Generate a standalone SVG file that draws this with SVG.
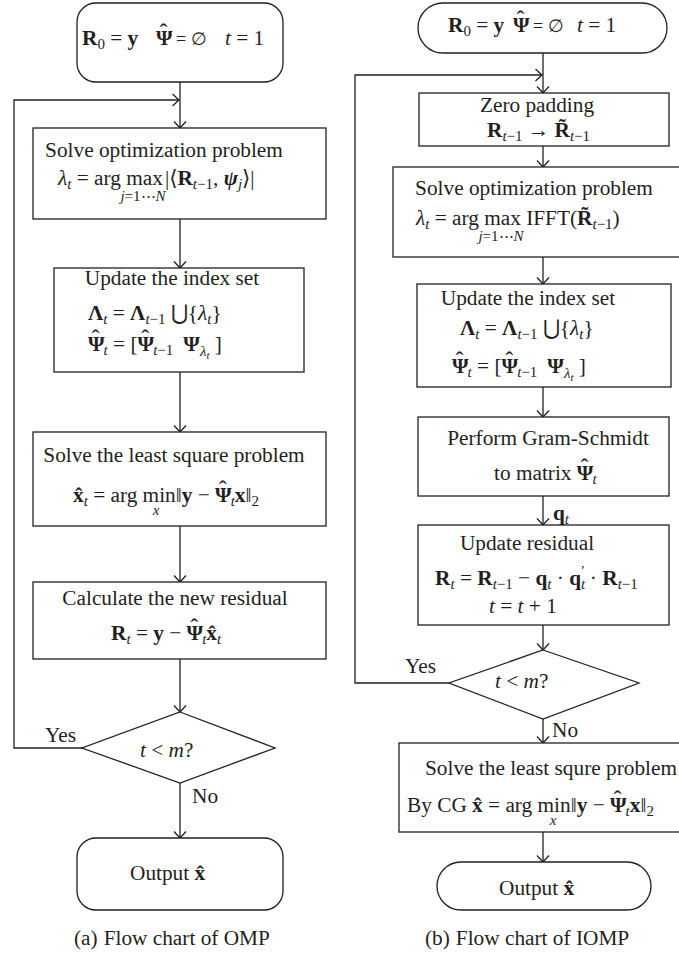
<svg xmlns="http://www.w3.org/2000/svg" width="679" height="953" viewBox="0 0 679 953">
<style>
.n{fill:#fff;stroke:#231f20;stroke-width:1.3}
.c{fill:none;stroke:#231f20;stroke-width:1.3;marker-end:url(#ah)}
text{font-family:"Liberation Serif","DejaVu Serif",serif;font-size:21.3px;fill:#231f20}
.b{font-weight:bold}
.i{font-style:italic}
.s{font-size:15px}
.ss{font-size:11px}
.m{text-anchor:middle}
.u{font-family:"DejaVu Serif",serif}
.hat{font-size:24px}
</style>
<defs>
<marker id="ah" viewBox="-8 -7 10 14" refX="0" refY="0" markerWidth="10" markerHeight="14" markerUnits="userSpaceOnUse" orient="auto">
<path d="M-6.5,-6 L0,0 L-6.5,6" fill="none" stroke="#231f20" stroke-width="1.3"/>
</marker>
</defs>
<rect width="679" height="953" fill="#fff"/>

<g id="connectors">
<line class="c" x1="180" y1="82" x2="180" y2="128"/>
<polyline class="c" points="82,748 14,748 14,100 179,100"/>
<line class="c" x1="180" y1="219" x2="180" y2="268"/>
<line class="c" x1="180" y1="372" x2="180" y2="432"/>
<line class="c" x1="180" y1="526" x2="180" y2="582"/>
<line class="c" x1="180" y1="659" x2="180" y2="712"/>
<line class="c" x1="180" y1="783" x2="180" y2="838"/>
<line class="c" x1="543" y1="53" x2="543" y2="93"/>
<polyline class="c" points="449,683 355,683 355,75 542,75"/>
<line class="c" x1="543" y1="146" x2="543" y2="167"/>
<line class="c" x1="543" y1="257" x2="543" y2="284"/>
<line class="c" x1="543" y1="387" x2="543" y2="417"/>
<line class="c" x1="543" y1="496" x2="543" y2="525"/>
<line class="c" x1="543" y1="625" x2="543" y2="650"/>
<line class="c" x1="543" y1="719" x2="543" y2="743"/>
<line class="c" x1="543" y1="832" x2="543" y2="862"/>
<text x="45" y="742">Yes</text>
<text x="192" y="803">No</text>
<text x="405" y="673">Yes</text>
<text x="552" y="737">No</text>
<text x="553" y="520"><tspan class="b">q</tspan><tspan class="i s" dy="4">t</tspan></text>
</g>

<!-- Left chart (a) OMP -->
<g id="a-start">
<rect class="n" x="77" y="3" width="206" height="79" rx="19" ry="19"/>
<text x="82" y="45"><tspan class="b">R</tspan><tspan class="s" dy="4">0</tspan><tspan dy="-4"> = </tspan><tspan class="b">y</tspan></text>
<text x="156" y="45"><tspan class="b">Ψ</tspan><tspan class="hat" dx="-13" dy="-5">ˆ</tspan><tspan font-size="18" dx="4" dy="5"> = </tspan><tspan class="u" font-size="18">∅</tspan></text>
<text x="225" y="45"><tspan class="i">t</tspan> = 1</text>
</g>
<g id="a-opt">
<rect class="n" x="33" y="128" width="293" height="91"/>
<text class="m" x="164" y="157">Solve optimization problem</text>
<text x="58" y="185"><tspan class="i">λ</tspan><tspan class="i s" dy="4">t</tspan><tspan dy="-4"> = arg </tspan><tspan>max</tspan><tspan dx="2">|⟨</tspan><tspan class="b">R</tspan><tspan class="s" dy="4"><tspan class="i">t</tspan>−1</tspan><tspan dy="-4">, </tspan><tspan class="b i">ψ</tspan><tspan class="i s" dy="4">j</tspan><tspan dy="-4">⟩|</tspan></text>
<text class="s m" x="143" y="201"><tspan class="i">j</tspan>=1⋯<tspan class="i">N</tspan></text>
</g>
<g id="a-index">
<rect class="n" x="54" y="268" width="250" height="104"/>
<text class="m" x="172" y="285">Update the index set</text>
<text x="88" y="320"><tspan class="b">Λ</tspan><tspan class="i s" dy="4">t</tspan><tspan dy="-4"> = </tspan><tspan class="b">Λ</tspan><tspan class="s" dy="4"><tspan class="i">t</tspan>−1</tspan><tspan dy="-4"> </tspan><tspan class="u">⋃</tspan>{<tspan class="i">λ</tspan><tspan class="i s" dy="4">t</tspan><tspan dy="-4">}</tspan></text>
<text x="88" y="351"><tspan class="b">Ψ</tspan><tspan class="hat" dx="-13" dy="-5">ˆ</tspan><tspan class="i s" dx="4" dy="9">t</tspan><tspan dy="-4"> = [</tspan><tspan class="b">Ψ</tspan><tspan class="hat" dx="-13" dy="-5">ˆ</tspan><tspan class="s" dx="4" dy="9"><tspan class="i">t</tspan>−1</tspan><tspan dy="-4" dx="10" class="b">Ψ</tspan><tspan class="i s" dy="5">λ</tspan><tspan class="i ss" dy="3">t</tspan><tspan dy="-8"> ]</tspan></text>
</g>
<g id="a-ls">
<rect class="n" x="33" y="432" width="293" height="94"/>
<text class="m" x="174" y="462">Solve the least square problem</text>
<text x="73" y="502"><tspan class="b">x̂</tspan><tspan class="i s" dy="4">t</tspan><tspan dy="-4"> = arg min</tspan>‖<tspan class="b">y</tspan> − <tspan class="b">Ψ</tspan><tspan class="hat" dx="-13" dy="-5">ˆ</tspan><tspan class="i s" dx="4" dy="9">t</tspan><tspan class="b" dy="-4">x</tspan>‖<tspan class="s" dy="4">2</tspan></text>
<text class="i s m" x="156" y="515">x</text>
</g>
<g id="a-res">
<rect class="n" x="33" y="582" width="293" height="77"/>
<text class="m" x="175" y="605">Calculate the new residual</text>
<text x="111" y="640"><tspan class="b">R</tspan><tspan class="i s" dy="4">t</tspan><tspan dy="-4"> = </tspan><tspan class="b">y</tspan> − <tspan class="b">Ψ</tspan><tspan class="hat" dx="-13" dy="-5">ˆ</tspan><tspan class="i s" dx="4" dy="9">t</tspan><tspan class="b" dy="-4">x̂</tspan><tspan class="i s" dy="4">t</tspan></text>
</g>
<g id="a-cond">
<polygon class="n" points="180,712 275,748 180,783 82,748"/>
<text x="140" y="757"><tspan class="i">t</tspan> &lt; <tspan class="i">m</tspan>?</text>
</g>
<g id="a-out">
<rect class="n" x="77" y="838" width="206" height="72" rx="19" ry="19"/>
<text x="130" y="880">Output <tspan class="b">x̂</tspan></text>
</g>
<text x="74" y="945">(a)<tspan dx="6">Flow chart of OMP</tspan></text>

<!-- Right chart (b) IOMP -->
<g id="b-start">
<rect class="n" x="418" y="3" width="249" height="50" rx="25" ry="25"/>
<text x="448" y="32"><tspan class="b">R</tspan><tspan class="s" dy="4">0</tspan><tspan dy="-4"> = </tspan><tspan class="b">y</tspan></text>
<text x="513" y="32"><tspan class="b">Ψ</tspan><tspan class="hat" dx="-13" dy="-5">ˆ</tspan><tspan font-size="18" dx="4" dy="5"> = </tspan><tspan class="u" font-size="18">∅</tspan></text>
<text x="577" y="32"><tspan class="i">t</tspan> = 1</text>
</g>
<g id="b-zero">
<rect class="n" x="419" y="93" width="250" height="53"/>
<text class="m" x="537" y="112">Zero padding</text>
<text x="487" y="137"><tspan class="b">R</tspan><tspan class="s" dy="4"><tspan class="i">t</tspan>−1</tspan><tspan dy="-4"> → </tspan><tspan class="b">R̃</tspan><tspan class="s" dy="4"><tspan class="i">t</tspan>−1</tspan></text>
</g>
<g id="b-opt">
<rect class="n" x="393" y="167" width="300" height="90"/>
<text class="m" x="534" y="195">Solve optimization problem</text>
<text x="416" y="225"><tspan class="i">λ</tspan><tspan class="i s" dy="4">t</tspan><tspan dy="-4"> = arg max IFFT(</tspan><tspan class="b">R̃</tspan><tspan class="s" dy="4"><tspan class="i">t</tspan>−1</tspan><tspan dy="-4">)</tspan></text>
<text class="s m" x="501" y="241"><tspan class="i">j</tspan>=1⋯<tspan class="i">N</tspan></text>
</g>
<g id="b-index">
<rect class="n" x="417" y="284" width="254" height="103"/>
<text class="m" x="528" y="305">Update the index set</text>
<text x="460" y="335"><tspan class="b">Λ</tspan><tspan class="i s" dy="4">t</tspan><tspan dy="-4"> = </tspan><tspan class="b">Λ</tspan><tspan class="s" dy="4"><tspan class="i">t</tspan>−1</tspan><tspan dy="-4"> </tspan><tspan class="u">⋃</tspan>{<tspan class="i">λ</tspan><tspan class="i s" dy="4">t</tspan><tspan dy="-4">}</tspan></text>
<text x="452" y="373"><tspan class="b">Ψ</tspan><tspan class="hat" dx="-13" dy="-5">ˆ</tspan><tspan class="i s" dx="4" dy="9">t</tspan><tspan dy="-4"> = [</tspan><tspan class="b">Ψ</tspan><tspan class="hat" dx="-13" dy="-5">ˆ</tspan><tspan class="s" dx="4" dy="9"><tspan class="i">t</tspan>−1</tspan><tspan dy="-4" dx="10" class="b">Ψ</tspan><tspan class="i s" dy="5">λ</tspan><tspan class="i ss" dy="3">t</tspan><tspan dy="-8"> ]</tspan></text>
</g>
<g id="b-gs">
<rect class="n" x="418" y="417" width="251" height="79"/>
<text class="m" x="548" y="445">Perform Gram-Schmidt</text>
<text x="494" y="480">to matrix <tspan class="b">Ψ</tspan><tspan class="hat" dx="-13" dy="-5">ˆ</tspan><tspan class="i s" dx="4" dy="9">t</tspan></text>
</g>
<g id="b-res">
<rect class="n" x="418" y="525" width="251" height="100"/>
<text class="m" x="527" y="550">Update residual</text>
<text x="435" y="585"><tspan class="b">R</tspan><tspan class="i s" dy="4">t</tspan><tspan dy="-4"> = </tspan><tspan class="b">R</tspan><tspan class="s" dy="4"><tspan class="i">t</tspan>−1</tspan><tspan dy="-4"> − </tspan><tspan class="b">q</tspan><tspan class="i s" dy="4">t</tspan><tspan dy="-4"> · </tspan><tspan class="b">q</tspan><tspan class="i s" dy="4">t</tspan><tspan class="s" dx="-4" dy="-13">′</tspan><tspan dy="9"> · </tspan><tspan class="b">R</tspan><tspan class="s" dy="4"><tspan class="i">t</tspan>−1</tspan></text>
<text x="489" y="613"><tspan class="i">t</tspan> = <tspan class="i">t</tspan> + 1</text>
</g>
<g id="b-cond">
<polygon class="n" points="543,650 639,683 543,719 449,683"/>
<text x="495" y="688"><tspan class="i">t</tspan> &lt; <tspan class="i">m</tspan>?</text>
</g>
<g id="b-ls">
<rect class="n" x="399" y="743" width="300" height="89"/>
<text class="m" x="551" y="775">Solve the least squre problem</text>
<text x="407" y="812">By CG <tspan class="b">x̂</tspan> = arg min‖<tspan class="b">y</tspan> − <tspan class="b">Ψ</tspan><tspan class="hat" dx="-13" dy="-5">ˆ</tspan><tspan class="i s" dx="4" dy="9">t</tspan><tspan class="b" dy="-4">x</tspan>‖<tspan class="s" dy="4">2</tspan></text>
<text class="i s m" x="553" y="825">x</text>
</g>
<g id="b-out">
<rect class="n" x="437" y="862" width="214" height="48" rx="24" ry="24"/>
<text x="499" y="895">Output <tspan class="b">x̂</tspan></text>
</g>
<text x="425" y="945">(b)<tspan dx="6">Flow chart of IOMP</tspan></text>
</svg>
